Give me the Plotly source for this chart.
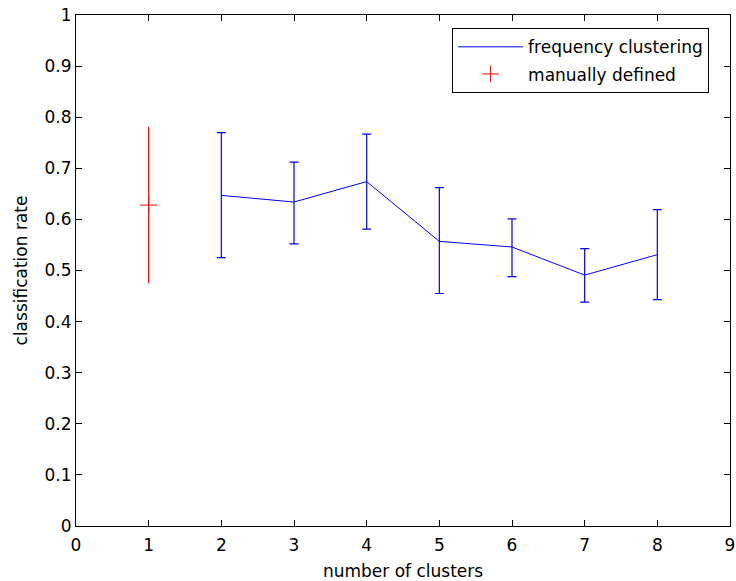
import plotly.graph_objects as go

# Data
clusters = [2, 3, 4, 5, 6, 7, 8]
freq_rate = [0.647, 0.634, 0.674, 0.557, 0.546, 0.491, 0.531]
freq_upper = [0.770, 0.712, 0.767, 0.662, 0.601, 0.543, 0.619]
freq_lower = [0.525, 0.552, 0.581, 0.455, 0.488, 0.438, 0.443]

manual_x = [1]
manual_rate = [0.628]
manual_upper = [0.780]
manual_lower = [0.476]

x_ticks = list(range(0, 10))
y_ticks = [0, 0.1, 0.2, 0.3, 0.4, 0.5, 0.6, 0.7, 0.8, 0.9, 1]
y_tick_labels = ["0", "0.1", "0.2", "0.3", "0.4", "0.5", "0.6", "0.7", "0.8", "0.9", "1"]

FONT = "DejaVu Sans"
FS = 17

fig = go.Figure()

fig.add_trace(go.Scatter(
    x=clusters, y=freq_rate, mode="lines", name="frequency clustering",
    legendgroup="a",
    line=dict(color="#0000ff", width=1),
    error_y=dict(type="data", symmetric=False,
                 array=[u - v for u, v in zip(freq_upper, freq_rate)],
                 arrayminus=[v - l for v, l in zip(freq_rate, freq_lower)],
                 color="#0000ff", thickness=1.2, width=4.5),
))

fig.add_trace(go.Scatter(
    x=manual_x, y=manual_rate, mode="markers", name="manually defined",
    legendgroup="b",
    marker=dict(symbol="cross-thin", size=12, color="#ff0000",
                line=dict(color="#ff0000", width=1)),
    error_y=dict(type="data", symmetric=False,
                 array=[u - v for u, v in zip(manual_upper, manual_rate)],
                 arrayminus=[v - l for v, l in zip(manual_rate, manual_lower)],
                 color="#ff0000", thickness=1.2, width=0.5),
))

axis_common = dict(
    showgrid=False, zeroline=False, showline=True, linecolor="black", linewidth=1,
    mirror="ticks", ticks="inside", ticklen=6, tickcolor="black", tickwidth=1,
    tickfont=dict(family=FONT, size=FS, color="black"), automargin=False,
)

fig.update_xaxes(range=[0, 9], tickvals=x_ticks, ticktext=[str(v) for v in x_ticks],
                 ticklabelstandoff=4,
                 title=dict(text="number of clusters", font=dict(family=FONT, size=FS, color="black"), standoff=10),
                 **axis_common)
fig.update_yaxes(range=[0, 1], tickvals=y_ticks, ticktext=y_tick_labels,
                 title=dict(text="classification rate", font=dict(family=FONT, size=FS, color="black"), standoff=12),
                 **axis_common)

fig.update_layout(
    width=736, height=581,
    margin=dict(l=76, r=6, t=15, b=55),
    paper_bgcolor="white", plot_bgcolor="white",
    font=dict(family=FONT, size=FS, color="black"),
    showlegend=True,
    legend=dict(
        x=0.968, y=0.974, xanchor="right", yanchor="top",
        bgcolor="white", bordercolor="black", borderwidth=1,
        font=dict(family=FONT, size=FS, color="black"),
        itemwidth=65, tracegroupgap=2, traceorder="grouped",
    ),
)

fig.write_html("out.html")
